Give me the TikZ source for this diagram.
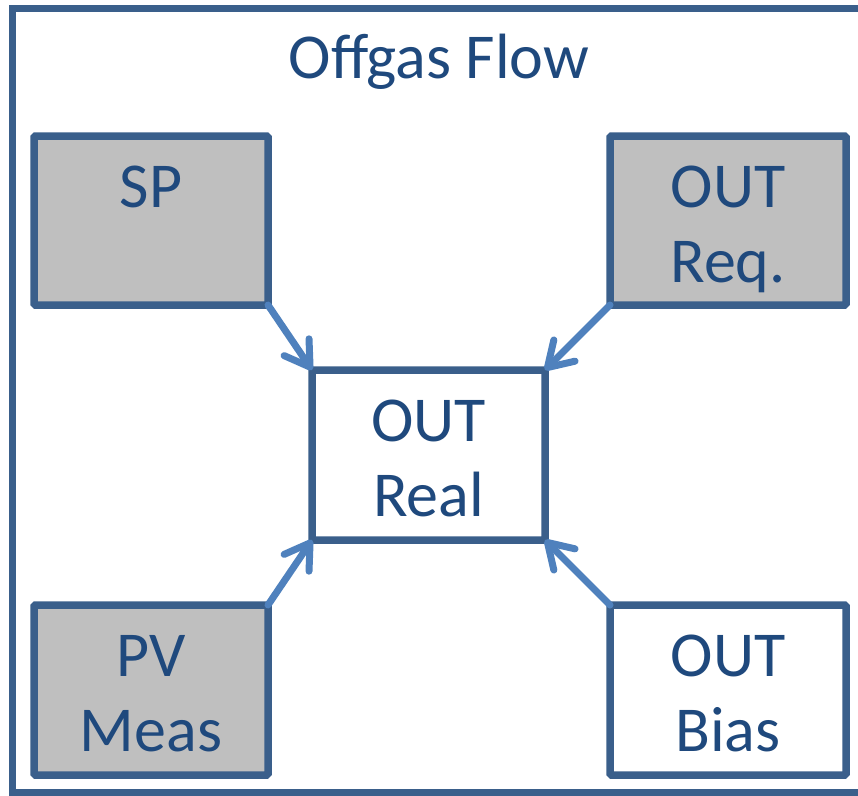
\documentclass[tikz,border=0pt]{standalone}
\usepackage{fontspec}
\setmainfont{Carlito}
\usetikzlibrary{arrows.meta}
\definecolor{frameblue}{HTML}{3A5F8B}
\definecolor{textblue}{HTML}{1F497D}
\definecolor{arrowblue}{HTML}{4F81BD}
\definecolor{boxgray}{HTML}{BFBFBF}
% box body: fixed size, text hangs from the top edge
\newcommand{\boxtext}[3]{\parbox[c][#2][t]{#1}{\centering\fontsize{64}{75}\selectfont\color{textblue}\rule{0pt}{71pt}#3}}
\tikzset{
  blk/.style={draw=frameblue, line width=7.5pt, rounded corners=1.5pt, inner sep=0pt, outer sep=0pt},
  grayblk/.style={blk, fill=boxgray},
  whiteblk/.style={blk, fill=white},
  arr/.style={draw=arrowblue, line width=7pt, line cap=round,
    -{Straight Barb[length=24pt, width=30pt, line cap=round, line join=round]}},
}
\begin{document}
\begin{tikzpicture}[x=1pt, y=-1pt]
\useasboundingbox (0,0) rectangle (858,795);
\clip (0,0) rectangle (858,795);
% outer frame, open on the right
\draw[draw=frameblue, line width=7pt, line cap=butt] (858,8) -- (12.5,8) -- (12.5,792) -- (858,792);
\node[text=textblue, font=\fontsize{64}{75}\selectfont, anchor=base, inner sep=0pt] (title) at (439,78) {Offgas Flow};
% blocks
\node[grayblk]  (sp)   at (151,220.5) {\boxtext{234pt}{169pt}{SP}};
\node[grayblk]  (req)  at (728,220.5) {\boxtext{236pt}{169pt}{OUT\\Req.}};
\node[whiteblk] (real) at (428.5,455) {\boxtext{233pt}{170pt}{OUT\\Real}};
\node[grayblk]  (pv)   at (151,690) {\boxtext{234pt}{170pt}{PV\\Meas}};
\node[whiteblk] (bias) at (728,690) {\boxtext{236pt}{170pt}{OUT\\Bias}};
% connectors
\draw[arr] (sp.south east) -- (real.north west);
\draw[arr] (req.south west) -- (real.north east);
\draw[arr] (pv.north east) -- (real.south west);
\draw[arr] (bias.north west) -- (real.south east);
\end{tikzpicture}
\end{document}
